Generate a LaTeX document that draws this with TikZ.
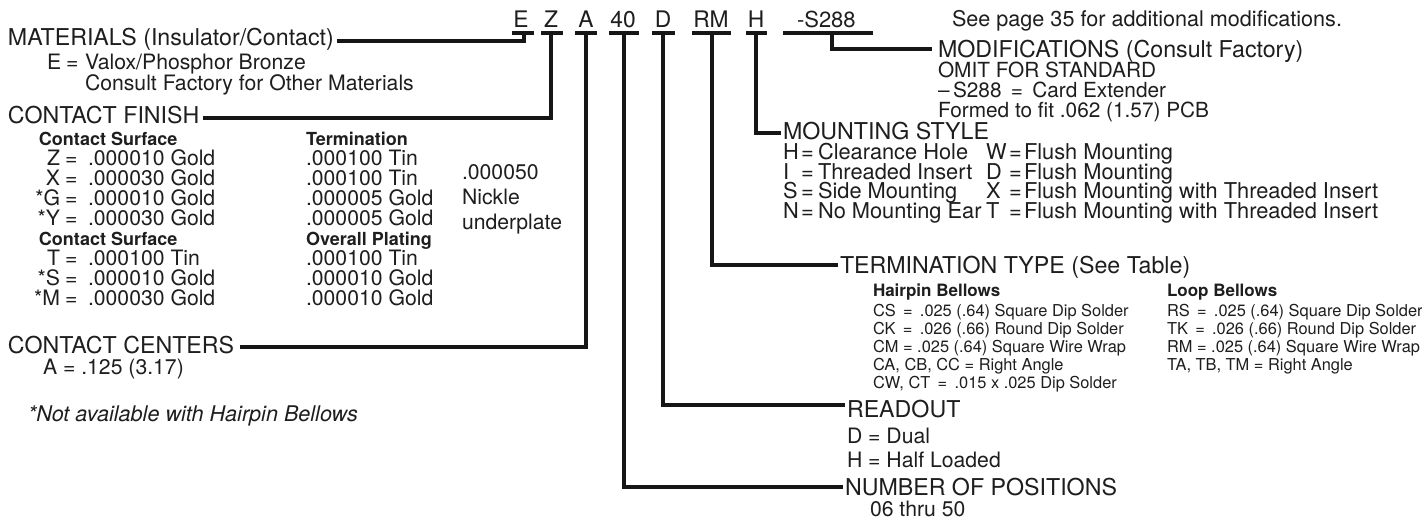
\documentclass[tikz,border=0pt]{standalone}
\usepackage{fontspec}
\setmainfont{TeX Gyre Heros}
\usetikzlibrary{calc}
\definecolor{ink}{HTML}{1E1E1E}
\definecolor{wire}{HTML}{161616}
\begin{document}
\begin{tikzpicture}[x=0.5pt,y=-0.5pt,
  every node/.style={inner sep=0pt,outer sep=0pt,text=ink,anchor=base west},
  hd/.style={font=\fontsize{11.6}{13}\selectfont},
  codefont/.style={font=\fontsize{11.4}{13}\selectfont,anchor=base},
  tx/.style={font=\fontsize{10.6}{12}\selectfont},
  tm/.style={font=\fontsize{10.9}{12}\selectfont},
  tmod/.style={font=\fontsize{10.4}{12}\selectfont},
  bh/.style={font=\bfseries\fontsize{9}{10}\selectfont},
  sm/.style={font=\fontsize{8.2}{9}\selectfont},
  bsm/.style={font=\bfseries\fontsize{8.5}{9}\selectfont},
  it/.style={font=\itshape\fontsize{10.8}{12}\selectfont},
  conn/.style={draw=wire,line width=1.75pt,line join=miter,line cap=butt},
  bar/.style={draw=wire,line width=2pt,line cap=butt}]
\useasboundingbox[fill=white] (0,0) rectangle (1422,520);

% ---- part number code ----
\node[codefont] (cE) at (521,27) {E};
\node[codefont] (cZ) at (551,27) {Z};
\node[codefont] (cA) at (586,27) {A};
\node[codefont] (c40) at (623,27) {40};
\node[codefont] (cD) at (663,27) {D};
\node[codefont] (cRM) at (711,27) {RM};
\node[codefont] (cH) at (756,27) {H};
\node[font=\fontsize{11}{13}\selectfont] (cS) at (797,27) {-S288};

\draw[bar] ($(cE.base)+(-9,6)$) -- ++(22,0);
\draw[bar] ($(cZ.base)+(-10,6)$) -- ++(22,0);
\draw[bar] ($(cA.base)+(-11,6)$) -- ++(22,0);
\draw[bar] ($(c40.base)+(-14,6)$) -- ++(30,0);
\draw[bar] ($(cD.base)+(-11,6)$) -- ++(23,0);
\draw[bar] ($(cRM.base)+(-19,6)$) -- ++(39,0);
\draw[bar] ($(cH.base)+(-10,6)$) -- ++(21,0);
\draw[bar] ($(cS.base west)+(-14,6)$) -- ++(90,0);

% ---- left side ----
\node[hd] (mat) at (8,45) {MATERIALS (Insulator/Contact)};
\node[tx] (matE) at (47,69) {E};
\node[tx] (matEq) at (66,69) {=};
\node[tx] (matV) at (85,69) {Valox/Phosphor Bronze};
\node[tx] (matC) at (85,90) {Consult Factory for Other Materials};

\node[hd] (cf) at (8,123) {CONTACT FINISH};
\node[bh] (cfh1) at (39,145) {Contact Surface};
\node[bh] (cfh2) at (306,145) {Termination};
\node[tx,anchor=base east] (r1l) at (60,165) {Z};
\node[tx,anchor=base east] (r2l) at (60,185) {X};
\node[tx,anchor=base east] (r3l) at (60,205) {*G};
\node[tx,anchor=base east] (r4l) at (60,225) {*Y};
\node[bh] (cfh3) at (39,245) {Contact Surface};
\node[bh] (cfh4) at (306,245) {Overall Plating};
\node[tx,anchor=base east] (r5l) at (60,265) {T};
\node[tx,anchor=base east] (r6l) at (60,285) {*S};
\node[tx,anchor=base east] (r7l) at (60,305) {*M};
\foreach \n/\y in {1/165,2/185,3/205,4/225,5/265,6/285,7/305}
  \node[tx] (r\n eq) at (65,\y) {=};
\node[tx] (r1v) at (88,165) {.000010 Gold};
\node[tx] (r2v) at (88,185) {.000030 Gold};
\node[tx] (r3v) at (88,205) {.000010 Gold};
\node[tx] (r4v) at (88,225) {.000030 Gold};
\node[tx] (r5v) at (88,265) {.000100 Tin};
\node[tx] (r6v) at (88,285) {.000010 Gold};
\node[tx] (r7v) at (88,305) {.000030 Gold};
\node[tx] (t1) at (306,165) {.000100 Tin};
\node[tx] (t2) at (306,185) {.000100 Tin};
\node[tx] (t3) at (306,205) {.000005 Gold};
\node[tx] (t4) at (306,225) {.000005 Gold};
\node[tx] (t5) at (306,265) {.000100 Tin};
\node[tx] (t6) at (306,285) {.000010 Gold};
\node[tx] (t7) at (306,305) {.000010 Gold};
\node[tx] (ni1) at (462,179) {.000050};
\node[tx] (ni2) at (462,204) {Nickle};
\node[tx] (ni3) at (462,229) {underplate};

\node[hd] (cc) at (8,353) {CONTACT CENTERS};
\node[tx] (ccA) at (43,374) {A = .125 (3.17)};
\node[it] (note) at (28,421) {*Not available with Hairpin Bellows};

% ---- right side ----
\node[font=\fontsize{10.8}{13}\selectfont] (see) at (952,26) {See page 35 for additional modifications.};
\node[hd] (mod) at (938,57) {MODIFICATIONS (Consult Factory)};
\node[tmod] (mod1) at (938,77) {OMIT FOR STANDARD};
\node[tmod] (mod2) at (938,97) {\textendash\,S288 \,=\, Card Extender};
\node[tmod] (mod3) at (938,117) {Formed to fit .062 (1.57) PCB};

\node[hd] (mnt) at (783,139) {MOUNTING STYLE};
\node[tm] (m1l) at (783,159) {H};
\node[tm] (m2l) at (783,179) {I};
\node[tm] (m3l) at (783,198) {S};
\node[tm] (m4l) at (783,218) {N};
\foreach \n/\y in {1/159,2/179,3/198,4/218}
  \node[tm] (m\n eq) at (801,\y) {=};
\node[tm] (m1t) at (818,159) {Clearance Hole};
\node[tm] (m2t) at (818,179) {Threaded Insert};
\node[tm] (m3t) at (818,198) {Side Mounting};
\node[tm] (m4t) at (818,218) {No Mounting Ear};
\node[tm] (w1l) at (986,159) {W};
\node[tm] (w2l) at (986,179) {D};
\node[tm] (w3l) at (986,198) {X};
\node[tm] (w4l) at (986,218) {T};
\foreach \n/\y in {1/159,2/179,3/198,4/218}
  \node[tm] (w\n eq) at (1009,\y) {=};
\node[tm] (w1t) at (1024,159) {Flush Mounting};
\node[tm] (w2t) at (1024,179) {Flush Mounting};
\node[tm] (w3t) at (1024,198) {Flush Mounting with Threaded Insert};
\node[tm] (w4t) at (1024,218) {Flush Mounting with Threaded Insert};

\node[hd] (term) at (840,273) {TERMINATION TYPE (See Table)};
\node[bsm] (hp) at (873,296) {Hairpin Bellows};
\node[bsm] (lp) at (1167,296) {Loop Bellows};
\node[sm] (h1) at (873,316) {CS \,=\, .025 (.64) Square Dip Solder};
\node[sm] (h2) at (873,334) {CK \,=\, .026 (.66) Round Dip Solder};
\node[sm] (h3) at (873,352) {CM = .025 (.64) Square Wire Wrap};
\node[sm] (h4) at (873,370) {CA, CB, CC = Right Angle};
\node[sm] (h5) at (873,388) {CW, CT \,=\, .015 x .025 Dip Solder};
\node[sm] (l1) at (1167,316) {RS \,=\, .025 (.64) Square Dip Solder};
\node[sm] (l2) at (1167,334) {TK \,=\, .026 (.66) Round Dip Solder};
\node[sm] (l3) at (1167,352) {RM = .025 (.64) Square Wire Wrap};
\node[sm] (l4) at (1167,370) {TA, TB, TM = Right Angle};

\node[hd] (rd) at (847,417) {READOUT};
\node[tx] (rd1) at (847,443) {D = Dual};
\node[tx] (rd2) at (847,467) {H = Half Loaded};
\node[hd] (np) at (845,495) {NUMBER OF POSITIONS};
\node[tx] (np1) at (870,516) {06 thru 50};

% ---- connectors ----
\draw[conn] ($(mat.base east)+(3,-4)$) -| ($(cE.base)+(3,6)$);
\draw[conn] ($(cZ.base)+(0,6)$) |- ($(cf.base east)+(4,-5)$);
\draw[conn] ($(cA.base)+(0,6)$) |- ($(cc.base east)+(6,-6)$);
\draw[conn] ($(c40.base)+(1,6)$) |- ($(np.base west)+(-2,-8)$);
\draw[conn] ($(cD.base)+(0,6)$) |- ($(rd.base west)+(-2,-12)$);
\draw[conn] ($(cRM.base)+(1,6)$) |- ($(term.base west)+(-2,-8)$);
\draw[conn] ($(cH.base)+(0,6)$) |- ($(mnt.base west)+(-2,-6)$);
\draw[conn] ($(cS.base west)+(35,6)$) |- ($(mod.base west)+(-6,-8)$);
\end{tikzpicture}
\end{document}
